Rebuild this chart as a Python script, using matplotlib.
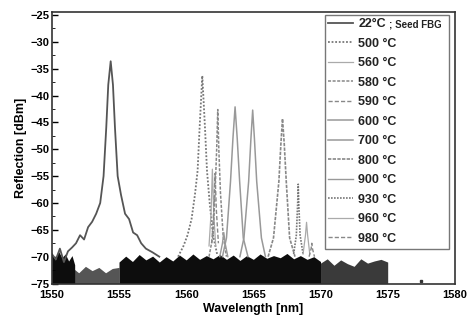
import matplotlib
matplotlib.use("Agg")
import matplotlib.pyplot as plt
from matplotlib.ticker import MultipleLocator

plt.rcParams['font.family'] = ['Liberation Sans', 'DejaVu Sans']
plt.rcParams['font.weight'] = 'bold'

# ---- spectra: (wavelength [nm], reflection [dBm]) ----
labels = ["22\u00b0C", "500 \u00b0C", "560 \u00b0C", "580 \u00b0C", "590 \u00b0C",
          "600 \u00b0C", "700 \u00b0C", "800 \u00b0C", "900 \u00b0C", "930 \u00b0C",
          "960 \u00b0C", "980 \u00b0C"]
seed_note = "; Seed FBG"

wl_22 = [1550.0, 1550.3, 1550.6, 1550.9, 1551.2, 1551.5, 1551.8, 1552.1, 1552.4, 1552.7,
         1553.0, 1553.3, 1553.6, 1553.85, 1554.05, 1554.2, 1554.38, 1554.55, 1554.7,
         1554.9, 1555.15, 1555.45, 1555.75, 1556.05, 1556.35, 1556.65, 1557.0, 1557.5, 1558.0]
r_22 = [-69.5, -70.5, -68.5, -71.0, -69.0, -68.3, -67.5, -66.0, -66.8, -64.5,
        -63.5, -62.0, -60.0, -55.0, -46.0, -38.0, -33.6, -38.0, -46.0,
        -55.0, -58.5, -62.0, -63.0, -65.5, -66.0, -67.5, -68.5, -69.2, -70.0]

wl_500 = [1559.4, 1559.8, 1560.1, 1560.4, 1560.65, 1560.85, 1561.0, 1561.2, 1561.4,
          1561.55, 1561.75, 1562.0, 1562.3]
r_500 = [-70.0, -68.0, -66.0, -63.0, -58.5, -54.0, -46.0, -36.3, -46.0,
         -54.0, -60.0, -66.0, -69.5]

wl_560 = [1561.7, 1561.85, 1561.95, 1562.05, 1562.2]
r_560 = [-68.0, -62.0, -53.7, -62.0, -68.0]

wl_580 = [1561.7, 1562.0, 1562.15, 1562.27, 1562.35, 1562.43, 1562.55, 1562.75, 1563.0]
r_580 = [-70.0, -66.0, -58.0, -50.0, -42.6, -50.0, -58.0, -66.0, -70.0]

wl_590 = [1561.9, 1562.05, 1562.15, 1562.25, 1562.4]
r_590 = [-67.5, -61.5, -54.5, -61.5, -67.5]

wl_600 = [1562.7, 1563.0, 1563.3, 1563.48, 1563.64, 1563.8, 1563.98, 1564.25, 1564.6]
r_600 = [-70.0, -66.5, -56.0, -48.0, -42.1, -48.0, -56.0, -66.5, -70.0]

wl_700 = [1564.0, 1564.3, 1564.65, 1564.82, 1564.95, 1565.08, 1565.25, 1565.6, 1565.9]
r_700 = [-70.0, -66.5, -56.0, -48.0, -42.7, -48.0, -56.0, -66.5, -70.0]

wl_800 = [1566.1, 1566.5, 1566.9, 1567.05, 1567.17, 1567.3, 1567.45, 1567.7, 1568.1]
r_800 = [-70.0, -66.5, -56.0, -49.0, -44.3, -49.0, -56.0, -66.5, -70.0]

wl_900 = [1562.5, 1562.7, 1562.8, 1562.9, 1563.1]
r_900 = [-70.0, -67.5, -65.5, -67.5, -70.0]

wl_930 = [1568.0, 1568.2, 1568.3, 1568.34, 1568.38, 1568.48, 1568.7]
r_930 = [-69.5, -66.0, -60.0, -56.5, -60.0, -66.0, -69.5]

wl_960 = [1568.7, 1568.88, 1568.96, 1569.04, 1569.2]
r_960 = [-69.5, -66.0, -63.6, -66.0, -69.5]

wl_980 = [1569.15, 1569.3, 1569.35, 1569.4, 1569.55]
r_980 = [-70.0, -68.5, -67.5, -68.5, -70.0]

# noise floor: top of the dense bands seen in the picture
dark_left_wl = [1550.0, 1550.25, 1550.5, 1550.75, 1551.0, 1551.25, 1551.5, 1551.7]
dark_left_top = [-69.4, -70.6, -69.0, -70.2, -69.5, -70.8, -69.8, -71.5]

dark_mid_wl = [1555.0, 1555.5, 1556.0, 1556.5, 1557.0, 1557.5, 1558.0, 1558.5, 1559.0,
               1559.5, 1560.0, 1560.5, 1561.0, 1561.5, 1562.0, 1562.5, 1563.0, 1563.5,
               1564.0, 1564.5, 1565.0, 1565.5, 1566.0, 1566.5, 1567.0, 1567.5, 1568.0,
               1568.5, 1569.0, 1569.5, 1570.0]
dark_mid_top = [-71.0, -69.9, -70.9, -69.6, -70.6, -69.9, -71.0, -70.0, -70.8,
                -69.7, -70.6, -69.5, -70.5, -69.8, -70.4, -69.6, -70.5, -69.7,
                -70.7, -69.8, -70.5, -69.5, -70.3, -69.8, -70.2, -69.4, -70.4,
                -69.8, -70.5, -70.0, -70.9]

grey_left_wl = [1550.0, 1550.5, 1551.0, 1551.5, 1552.0, 1552.5, 1553.0, 1553.5, 1554.0,
                1554.5, 1555.0]
grey_left_top = [-72.5, -71.5, -72.8, -72.0, -73.0, -71.8, -72.6, -72.0, -73.0,
                 -72.2, -72.0]

grey_right_wl = [1570.0, 1570.5, 1571.0, 1571.5, 1572.0, 1572.5, 1573.0, 1573.5, 1574.0,
                 1574.5, 1575.0]
grey_right_top = [-71.2, -70.4, -71.6, -70.6, -71.3, -71.8, -70.4, -71.2, -70.8,
                  -70.5, -71.0]

series = [(wl_22, r_22), (wl_500, r_500), (wl_560, r_560), (wl_580, r_580),
          (wl_590, r_590), (wl_600, r_600), (wl_700, r_700), (wl_800, r_800),
          (wl_900, r_900), (wl_930, r_930), (wl_960, r_960), (wl_980, r_980)]

styles = [
    dict(color="#555555", ls="-", lw=1.3),
    dict(color="#777777", ls=(0, (1, 1)), lw=1.3),
    dict(color="#aaaaaa", ls="-", lw=0.9),
    dict(color="#888888", ls=(0, (2, 1)), lw=1.1),
    dict(color="#888888", ls=(0, (3, 1.5)), lw=1.0),
    dict(color="#999999", ls="-", lw=1.1),
    dict(color="#999999", ls="-", lw=1.1),
    dict(color="#888888", ls=(0, (2, 0.8)), lw=1.2),
    dict(color="#999999", ls="-", lw=1.0),
    dict(color="#777777", ls=(0, (1, 0.8)), lw=1.2),
    dict(color="#aaaaaa", ls="-", lw=0.9),
    dict(color="#888888", ls=(0, (3, 1.5)), lw=1.0),
]

fig = plt.figure(figsize=(4.67, 3.2), dpi=100)
ax = fig.add_axes([0.111, 0.114, 0.863, 0.849])

ax.fill_between(grey_left_wl, -75, grey_left_top, color="#555555", lw=0)
ax.fill_between(grey_right_wl, -75, grey_right_top, color="#3a3a3a", lw=0)
ax.fill_between(dark_left_wl, -75, dark_left_top, color="#0d0d0d", lw=0)
ax.fill_between(dark_mid_wl, -75, dark_mid_top, color="#0d0d0d", lw=0)

for (x, y), lab, st in zip(series, labels, styles):
    ax.plot(x, y, label=lab, **st)

ax.plot([1577.5], [-74.6], marker="s", ms=2, color="#333333", ls="none")

ax.set_xlim(1550, 1580)
ax.set_ylim(-75, -24.4)
ax.xaxis.set_major_locator(MultipleLocator(5))
ax.yaxis.set_major_locator(MultipleLocator(5))
ax.yaxis.set_minor_locator(MultipleLocator(2.5))
ax.tick_params(direction="in", labelsize=8, length=4, width=1, pad=2)
ax.tick_params(which="minor", direction="in", length=2)
ax.tick_params(axis="x", which="both", bottom=False, pad=5)
for lab in ax.get_xticklabels() + ax.get_yticklabels():
    lab.set_fontweight("bold")
for sp in ax.spines.values():
    sp.set_linewidth(1.2)
    sp.set_color("#333333")

ax.set_xlabel("Wavelength [nm]", fontsize=9, fontweight="bold", labelpad=2)
ax.set_ylabel("Reflection [dBm]", fontsize=9, fontweight="bold", labelpad=2)

leg = ax.legend(loc="upper left", bbox_to_anchor=(0.677, 0.13, 0.308, 0.86),
                mode="expand", borderaxespad=0, fontsize=9, handlelength=2.0,
                labelspacing=0.6, handletextpad=0.4, borderpad=0.3,
                fancybox=False, framealpha=1)
leg.get_frame().set_edgecolor("#777777")
leg.get_frame().set_linewidth(1.0)
for t in leg.get_texts():
    t.set_fontweight("bold")
    t.set_color("#222222")

# smaller "; Seed FBG" note right after the first legend label
fig.canvas.draw()
bb = leg.get_texts()[0].get_window_extent()
x_note, y_note = fig.transFigure.inverted().transform((bb.x1 + 3, (bb.y0 + bb.y1) / 2))
fig.text(x_note, y_note, seed_note, fontsize=7, fontweight="bold", color="#222222",
         va="center", ha="left")

fig.savefig("out.png", dpi=100)
